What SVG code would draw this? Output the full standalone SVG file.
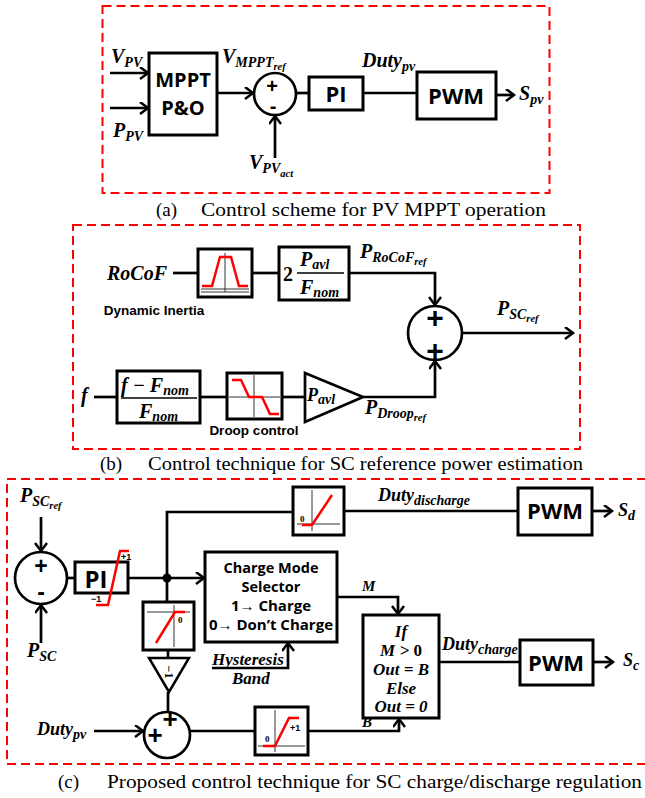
<svg xmlns="http://www.w3.org/2000/svg" width="645" height="798" viewBox="0 0 645 798">
<defs>
<style>
.m{font-family:"Liberation Serif",serif;font-weight:bold;font-style:italic;font-size:20px;fill:#000}
.s{font-size:14px}
.ss{font-size:10.5px}
.up{font-style:normal}
.b{font-family:"Open Sans","Liberation Sans",sans-serif;font-weight:bold;text-anchor:middle;fill:#000}
.lb{font-family:"Liberation Sans",Arial,sans-serif;font-weight:bold;font-size:13.5px;text-anchor:middle;fill:#000}
.cap{font-family:"Liberation Serif","Times New Roman",serif;font-size:19px;fill:#000}
.ln{stroke:#000;stroke-width:2.7;fill:none}
.bx{fill:#fff;stroke:#000;stroke-width:3}
.red{stroke:#f00;stroke-width:2.5;fill:none}
.thin{stroke:#333;stroke-width:1;fill:none}
.dash{fill:none;stroke:#f00;stroke-width:2;stroke-dasharray:9 5}
.pl{font-family:"Liberation Sans",sans-serif;font-weight:bold;text-anchor:middle;fill:#000}
.tiny{font-family:"Liberation Sans",sans-serif;font-weight:bold;font-size:9px;fill:#000}
.tz{font-family:"Liberation Serif",serif;font-weight:bold;font-size:9px;fill:#000}
.ifx{font-size:17px;text-anchor:middle}
</style>
<marker id="a" markerWidth="12" markerHeight="14" refX="9" refY="6.5" orient="auto" markerUnits="userSpaceOnUse">
<path d="M1,0.5 L9,6.5 L1,12.5" fill="none" stroke="#000" stroke-width="2.5"/>
</marker>
</defs>
<rect width="645" height="798" fill="#fff"/>

<!-- Panel frames -->
<rect class="dash" x="102.5" y="6" width="447" height="187"/>
<rect class="dash" x="73" y="225" width="507" height="224"/>
<rect class="dash" x="7" y="479" width="660" height="285"/>

<!-- Captions -->
<text class="cap" y="216"><tspan x="156">(a)</tspan><tspan x="201" textLength="345" lengthAdjust="spacingAndGlyphs">Control scheme for PV MPPT operation</tspan></text>
<text class="cap" y="470"><tspan x="100">(b)</tspan><tspan x="148" textLength="435" lengthAdjust="spacingAndGlyphs">Control technique for SC reference power estimation</tspan></text>
<text class="cap" y="788"><tspan x="58">(c)</tspan><tspan x="107" textLength="535" lengthAdjust="spacingAndGlyphs">Proposed control technique for SC charge/discharge regulation</tspan></text>

<!-- Connectors -->
<g id="connectors">
<line class="ln" x1="110" y1="73" x2="148" y2="73" marker-end="url(#a)"/>
<line class="ln" x1="110" y1="108" x2="148" y2="108" marker-end="url(#a)"/>
<line class="ln" x1="217" y1="93" x2="253" y2="93" marker-end="url(#a)"/>
<line class="ln" x1="275" y1="158" x2="275" y2="116" marker-end="url(#a)"/>
<line class="ln" x1="296" y1="93" x2="309" y2="93"/>
<line class="ln" x1="363" y1="93" x2="417" y2="93"/>
<line class="ln" x1="496" y1="95" x2="514" y2="95" marker-end="url(#a)"/>

<line class="ln" x1="173" y1="273" x2="198" y2="273"/>
<line class="ln" x1="252" y1="273" x2="279" y2="273"/>
<path class="ln" d="M349,273 H435 V305" marker-end="url(#a)"/>
<line class="ln" x1="462" y1="333" x2="573" y2="333" marker-end="url(#a)"/>
<line class="ln" x1="94" y1="397" x2="117" y2="397"/>
<line class="ln" x1="200" y1="397" x2="227" y2="397"/>
<line class="ln" x1="282" y1="397" x2="305" y2="397"/>
<path class="ln" d="M363,397 H435 V361" marker-end="url(#a)"/>

<line class="ln" x1="41" y1="517" x2="41" y2="551" marker-end="url(#a)"/>
<line class="ln" x1="41" y1="643" x2="41" y2="605" marker-end="url(#a)"/>
<line class="ln" x1="67" y1="578" x2="75" y2="578"/>
<line class="ln" x1="128" y1="578" x2="167" y2="578"/>
<line class="ln" x1="167" y1="578" x2="204" y2="578" marker-end="url(#a)"/>
<path class="ln" d="M167,578 V512 H293"/>
<line class="ln" x1="344" y1="511" x2="518" y2="511"/>
<line class="ln" x1="592" y1="511" x2="612" y2="511" marker-end="url(#a)"/>
<path class="ln" d="M337,597 H398 V614" marker-end="url(#a)"/>
<line class="ln" x1="439" y1="662" x2="520" y2="662"/>
<line class="ln" x1="593" y1="662" x2="613" y2="662" marker-end="url(#a)"/>
<line class="ln" x1="167" y1="578" x2="167" y2="602"/>
<line class="ln" x1="168" y1="650" x2="168" y2="658"/>
<line class="ln" x1="168" y1="692" x2="168" y2="712"/>
<line class="ln" x1="94" y1="731" x2="143" y2="731" marker-end="url(#a)"/>
<line class="ln" x1="190" y1="731" x2="255" y2="731"/>
<path class="ln" d="M308,731 H399 V719" marker-end="url(#a)"/>
<path class="ln" d="M212,668 H288 V643" marker-end="url(#a)"/>
<circle cx="167" cy="578" r="4.5" fill="#000"/>
</g>

<!-- Panel (a) nodes -->
<g id="mppt">
<rect class="bx" x="149" y="53" width="68" height="82"/>
<text class="b" x="183" y="87" font-size="20">MPPT</text>
<text class="b" x="183" y="115" font-size="20">P&amp;O</text>
</g>
<g id="sum_a">
<circle cx="275" cy="94" r="21" fill="#fff" stroke="#000" stroke-width="2.7"/>
<text class="pl" x="272" y="93" font-size="20">+</text>
<text class="pl" x="273" y="113" font-size="20">-</text>
</g>
<g id="pi_a">
<rect class="bx" x="309" y="77" width="54" height="33"/>
<text class="b" x="336" y="102" font-size="22">PI</text>
</g>
<g id="pwm_a">
<rect class="bx" x="417" y="72" width="79" height="47"/>
<text class="b" x="456" y="104" font-size="22">PWM</text>
</g>
<g id="labels_a">
<text class="m" x="111" y="63">V<tspan class="s" dy="4">PV</tspan></text>
<text class="m" x="113" y="137">P<tspan class="s" dy="4">PV</tspan></text>
<text class="m" x="222" y="63">V<tspan class="s" dy="4">MPPT</tspan><tspan class="ss" dy="3">ref</tspan></text>
<text class="m" x="362" y="67">Duty<tspan class="s" dy="4">pv</tspan></text>
<text class="m" x="519" y="100">S<tspan class="s" dy="4">pv</tspan></text>
<text class="m" x="249" y="169">V<tspan class="s" dy="4">PV</tspan><tspan class="ss" dy="4">act</tspan></text>
</g>

<!-- Panel (b) nodes -->
<g id="dyn_inertia">
<rect class="bx" x="198" y="249" width="54" height="48"/>
<line class="thin" x1="225" y1="253" x2="225" y2="292"/>
<line class="thin" x1="201" y1="289" x2="249" y2="289"/>
<line class="thin" x1="201" y1="292" x2="249" y2="292"/>
<polyline class="red" points="202,286 212,286 220,257 231,257 239,286 248,286"/>
<text class="lb" x="154" y="315">Dynamic Inertia</text>
</g>
<g id="gain_rocof">
<rect class="bx" x="279" y="247" width="70" height="53"/>
<text class="m" x="283" y="281" style="font-style:normal">2</text>
<text class="m" x="300" y="266">P<tspan class="s" dy="3">avl</tspan></text>
<line x1="297" y1="273" x2="344" y2="273" stroke="#000" stroke-width="1.5"/>
<text class="m" x="300" y="294">F<tspan class="s" dy="3">nom</tspan></text>
</g>
<g id="sum_b">
<circle cx="435" cy="333" r="27" fill="#fff" stroke="#000" stroke-width="2.7"/>
<text class="pl" x="435" y="328" font-size="30">+</text>
<text class="pl" x="435" y="361" font-size="30">+</text>
</g>
<g id="norm">
<rect class="bx" x="117" y="371" width="83" height="52"/>
<text class="m" x="121" y="392">f − F<tspan class="s" dy="3">nom</tspan></text>
<line x1="121" y1="398" x2="197" y2="398" stroke="#000" stroke-width="1.5"/>
<text class="m" x="139" y="418">F<tspan class="s" dy="3">nom</tspan></text>
</g>
<g id="droop">
<rect class="bx" x="227" y="373" width="55" height="46"/>
<line class="thin" x1="254" y1="375" x2="254" y2="417"/>
<line class="thin" x1="229" y1="397" x2="280" y2="397"/>
<polyline class="red" points="232,380 241,380 249,397 262,397 270,414 279,414"/>
<text class="lb" x="254" y="435">Droop control</text>
</g>
<g id="pavl_gain">
<polygon points="305,373 305,422 363,397" fill="#fff" stroke="#000" stroke-width="2.7"/>
<text class="m" x="307" y="401" style="font-size:18px">P<tspan class="s" dy="3">avl</tspan></text>
</g>
<g id="labels_b">
<text class="m" x="107" y="280">RoCoF</text>
<text class="m" x="360" y="258">P<tspan class="s" dy="4">RoCoF</tspan><tspan class="ss" dy="3">ref</tspan></text>
<text class="m" x="497" y="315">P<tspan class="s" dy="4">SC</tspan><tspan class="ss" dy="3">ref</tspan></text>
<text class="m" x="81" y="402">f</text>
<text class="m" x="365" y="414">P<tspan class="s" dy="4">Droop</tspan><tspan class="ss" dy="3">ref</tspan></text>
</g>

<!-- Panel (c) nodes -->
<g id="sum_c1">
<circle cx="41" cy="578" r="26" fill="#fff" stroke="#000" stroke-width="2.7"/>
<text class="pl" x="41" y="574" font-size="23">+</text>
<text class="pl" x="41" y="600" font-size="23">-</text>
</g>
<g id="pi_c">
<rect class="bx" x="75" y="562" width="53" height="31"/>
<text class="b" x="96" y="588" font-size="24">PI</text>
<polyline class="red" points="96,605 108,605 120,551 129,551"/>
<text class="tiny" x="121" y="560">+1</text>
<text class="tiny" x="91" y="602">−1</text>
</g>
<g id="sat_discharge">
<rect class="bx" x="293" y="487" width="51" height="48"/>
<line class="thin" x1="312" y1="490" x2="312" y2="531"/>
<line class="thin" x1="297" y1="524" x2="340" y2="524"/>
<polyline class="red" points="302,525 312,525 332,495"/>
<text class="tz" x="300" y="522">0</text>
</g>
<g id="pwm_d">
<rect class="bx" x="518" y="488" width="74" height="47"/>
<text class="b" x="555" y="519" font-size="22">PWM</text>
</g>
<g id="selector">
<rect class="bx" x="205" y="552" width="132" height="90"/>
<text class="b" x="271" y="573" font-size="14.5">Charge Mode</text>
<text class="b" x="271" y="592" font-size="14.5">Selector</text>
<text class="b" x="271" y="611" font-size="15">1→ Charge</text>
<text class="b" x="271" y="630" font-size="15">0→ Don’t Charge</text>
</g>
<g id="if_block">
<rect class="bx" x="363" y="615" width="76" height="103"/>
<text class="m ifx" x="401" y="637">If</text>
<text class="m ifx" x="401" y="656">M &gt; <tspan class="up">0</tspan></text>
<text class="m ifx" x="401" y="675">Out = B</text>
<text class="m ifx" x="401" y="694">Else</text>
<text class="m ifx" x="401" y="712">Out = 0</text>
</g>
<g id="pwm_c">
<rect class="bx" x="520" y="640" width="73" height="45"/>
<text class="b" x="556" y="671" font-size="22">PWM</text>
</g>
<g id="sat_neg">
<rect class="bx" x="143" y="602" width="51" height="48"/>
<line class="thin" x1="174" y1="605" x2="174" y2="647"/>
<line class="thin" x1="147" y1="612" x2="190" y2="612"/>
<polyline class="red" points="156,643 175,612 185,612"/>
<text class="tz" x="178" y="623">0</text>
</g>
<g id="gain_neg">
<polygon points="149,658 189,658 169,692" fill="#fff" stroke="#000" stroke-width="2.5"/>
<text class="tz" x="169" y="672" style="font-size:12px" text-anchor="middle" transform="rotate(90 169 672)" dy="4">−1</text>
</g>
<g id="sum_c2">
<circle cx="167" cy="735" r="23" fill="#fff" stroke="#000" stroke-width="2.7"/>
<text class="pl" x="170" y="728" font-size="26">+</text>
<text class="pl" x="155" y="744" font-size="26">+</text>
</g>
<g id="sat_charge">
<rect class="bx" x="255" y="707" width="53" height="48"/>
<line class="thin" x1="275" y1="710" x2="275" y2="752"/>
<line class="thin" x1="258" y1="746" x2="305" y2="746"/>
<polyline class="red" points="263,746 275,746 289,718 299,718"/>
<text class="tiny" x="290" y="731">+1</text>
<text class="tz" x="265" y="742">0</text>
</g>
<g id="labels_c">
<text class="m" x="20" y="502">P<tspan class="s" dy="4">SC</tspan><tspan class="ss" dy="3">ref</tspan></text>
<text class="m" x="27" y="657">P<tspan class="s" dy="4">SC</tspan></text>
<text class="m" x="378" y="501" style="font-size:18px">Duty<tspan class="s" dy="4">discharge</tspan></text>
<text class="m" x="618" y="516" style="font-size:18px">S<tspan class="s" dy="4">d</tspan></text>
<text class="m" x="362" y="591" style="font-size:15px">M</text>
<text class="m" x="442" y="650" style="font-size:18px">Duty<tspan class="s" dy="4">charge</tspan></text>
<text class="m" x="623" y="666" style="font-size:18px">S<tspan class="s" dy="4">c</tspan></text>
<text class="m" x="212" y="665" style="font-size:17px">Hysteresis</text>
<text class="m" x="232" y="684" style="font-size:17px">Band</text>
<text class="m" x="37" y="735" style="font-size:18px">Duty<tspan class="s" dy="4">pv</tspan></text>
<text class="m" x="362" y="727" style="font-size:15px">B</text>
</g>
</svg>
